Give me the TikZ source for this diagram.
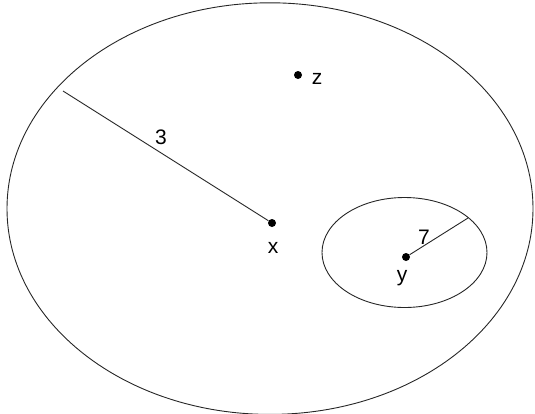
\documentclass[tikz,border=0pt]{standalone}
\usepackage{fontspec}
\setmainfont{Liberation Sans}
\begin{document}
\begin{tikzpicture}[x=1pt,y=-1pt,
  dotnode/.style={circle,fill=black,inner sep=0pt,minimum size=8pt},
  lbl/.style={font=\fontsize{21}{21}\selectfont,inner sep=0pt},
  ln/.style={line width=0.9pt,color=black!85}]
\useasboundingbox (0,0) rectangle (535,413);
\clip (0,0) rectangle (535,413);
\draw[ln] (270,208.6) ellipse [x radius=263, y radius=205.8];
\draw[ln] (404.5,252.5) ellipse [x radius=82.5, y radius=55];
\node[dotnode] (z) at (298,75) {};
\node[lbl] (zl) at (317,79) {z};
\node[dotnode] (x) at (272,223) {};
\node[lbl] (xl) at (273,248) {x};
\coordinate (xe) at (63,91);
\draw[ln] (x) -- (xe);
\node[lbl] (l3) at (161,137) {3};
\node[dotnode] (y) at (406,257) {};
\node[lbl] (yl) at (402,278) {y};
\coordinate (ye) at (468,218);
\draw[ln] (y) -- (ye);
\node[lbl] (l7) at (424,237) {7};
\end{tikzpicture}
\end{document}
